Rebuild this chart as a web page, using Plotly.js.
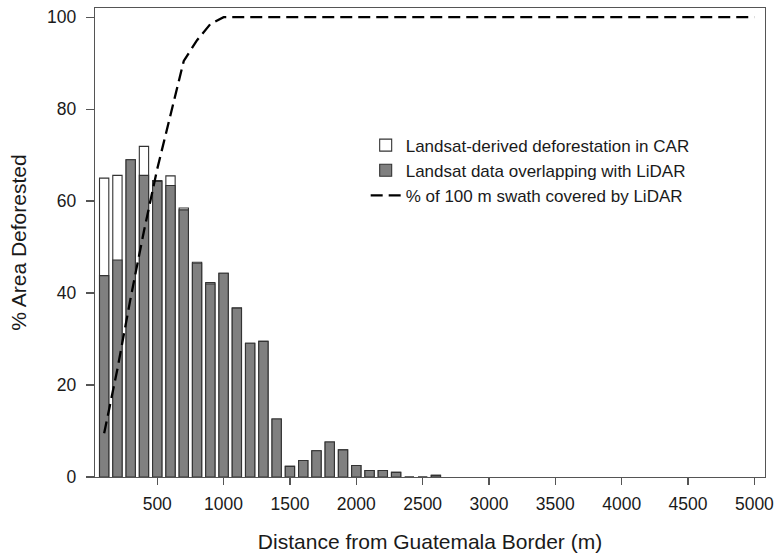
<!DOCTYPE html>
<html>
<head>
<meta charset="utf-8">
<script src="https://cdn.plot.ly/plotly-3.0.1.min.js"></script>
<style>html,body{margin:0;padding:0;background:#fff;}#chart{width:776px;height:556px;}</style>
</head>
<body>
<div id="chart"></div>
<script>
// Distance bins (m)
var distance = [100,200,300,400,500,600,700,800,900,1000,1100,1200,1300,1400,1500,1600,1700,1800,1900,2000,2100,2200,2300,2400,2500,2600];
// Landsat-derived deforestation in CAR (%)
var landsatCAR = [65.0,65.6,69.0,71.9,64.5,65.5,58.5,46.7,42.3,44.3,36.8,29.1,29.5,12.6,2.3,3.6,5.7,7.6,5.9,2.5,1.4,1.4,1.0,0,0,0.35];
// Landsat data overlapping with LiDAR (%)
var landsatLidar = [43.8,47.2,69.0,65.6,64.3,63.4,58.1,46.5,42.0,44.3,36.7,29.1,29.5,12.6,2.3,3.6,5.7,7.6,5.9,2.5,1.4,1.4,1.0,0,0,0.35];
// % of 100 m swath covered by LiDAR
var swathX = [100,200,300,400,500,600,700,800,900,1000,5000];
var swathY = [9.5,23.5,39,53.5,67,78.5,90.5,95,98.5,100,100];

var xTicks = [500,1000,1500,2000,2500,3000,3500,4000,4500,5000];
var yTicks = [0,20,40,60,80,100];

var FONT = 'Liberation Sans, Arial, sans-serif';
var AX = '#555555';

var traces = [
  {type:'bar', x:distance, y:landsatCAR, name:'Landsat-derived deforestation in CAR', width:70,
   marker:{color:'#ffffff', line:{color:'#333333', width:1.1}}},
  {type:'bar', x:distance, y:landsatLidar, name:'Landsat data overlapping with LiDAR', width:70,
   marker:{color:'#808080', line:{color:'#333333', width:1.1}}},
  {type:'scatter', mode:'lines', x:swathX, y:swathY, name:'% of 100 m swath covered by LiDAR',
   line:{color:'#000000', width:2.3, dash:'12px,6px'}}
];

var layout = {
  width:776, height:556,
  margin:{l:95, r:11, t:8, b:79},
  paper_bgcolor:'#ffffff', plot_bgcolor:'#ffffff',
  font:{family:FONT, color:'#1a1a1a'},
  barmode:'overlay',
  showlegend:true,
  legend:{x:0.404, y:0.745, xanchor:'left', yanchor:'top', bgcolor:'rgba(0,0,0,0)',
          font:{family:FONT, size:17, color:'#1a1a1a'}, tracegroupgap:0},
  xaxis:{range:[31,5080], tickvals:xTicks, ticktext:xTicks.map(String),
         showline:true, linecolor:AX, linewidth:1.3, mirror:true,
         ticks:'outside', ticklen:7, tickcolor:AX, tickwidth:1.3,
         showgrid:false, zeroline:false, ticklabelstandoff:4,
         tickfont:{family:FONT, size:17.5, color:'#1a1a1a'},
         title:{text:'Distance from Guatemala Border (m)', font:{family:FONT, size:21, color:'#1a1a1a'}, standoff:21}},
  yaxis:{range:[0,102], tickvals:yTicks, ticktext:yTicks.map(String),
         showline:true, linecolor:AX, linewidth:1.3, mirror:true,
         ticks:'outside', ticklen:8, tickcolor:AX, tickwidth:1.3,
         showgrid:false, zeroline:false, ticklabelstandoff:6,
         tickfont:{family:FONT, size:17.5, color:'#1a1a1a'},
         title:{text:'% Area Deforested', font:{family:FONT, size:21, color:'#1a1a1a'}, standoff:14}},
  shapes:[{type:'line', xref:'paper', yref:'paper', x0:-0.01, x1:0, y0:0, y1:0,
           line:{color:AX, width:1.3}}]
};

Plotly.newPlot('chart', traces, layout, {displayModeBar:false, staticPlot:true});
</script>
</body>
</html>
